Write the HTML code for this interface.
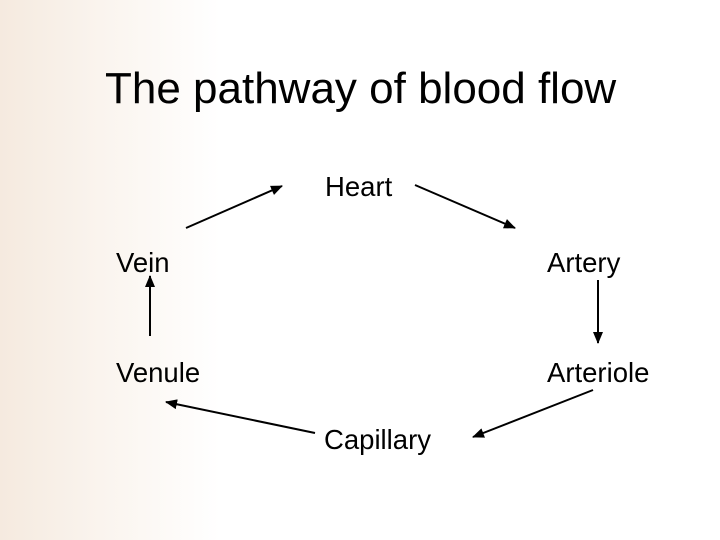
<!DOCTYPE html>
<html><head><style>
body{margin:0;width:720px;height:540px;overflow:hidden;background:linear-gradient(to right,#f5eadf 0px,#faf4ee 100px,#fff 220px);font-family:"Liberation Sans",sans-serif;position:relative}
.t{position:absolute;white-space:nowrap;color:#000;line-height:1}
</style></head><body>
<div class="t" style="left:105px;top:67px;font-size:44px">The pathway of blood flow</div>
<div class="t" style="left:325px;top:173px;font-size:27.5px">Heart</div>
<div class="t" style="left:116px;top:249px;font-size:27.5px">Vein</div>
<div class="t" style="left:547px;top:249px;font-size:27.5px">Artery</div>
<div class="t" style="left:116px;top:359px;font-size:27.5px">Venule</div>
<div class="t" style="left:547px;top:359px;font-size:27.5px">Arteriole</div>
<div class="t" style="left:324px;top:426px;font-size:27.5px">Capillary</div>
<svg width="720" height="540" style="position:absolute;left:0;top:0">
<defs><marker id="a" markerWidth="12" markerHeight="10" refX="11" refY="5" orient="auto" markerUnits="userSpaceOnUse"><path d="M0,0L12,5L0,10z" fill="#000"/></marker></defs>
<g stroke="#000" stroke-width="2" marker-end="url(#a)">
<line x1="186" y1="228" x2="282" y2="186"/>
<line x1="415" y1="185" x2="515" y2="228"/>
<line x1="598" y1="280" x2="598" y2="343"/>
<line x1="150" y1="336" x2="150" y2="276"/>
<line x1="593" y1="390" x2="473" y2="437"/>
<line x1="315" y1="433" x2="166" y2="402"/>
</g></svg>
</body></html>
